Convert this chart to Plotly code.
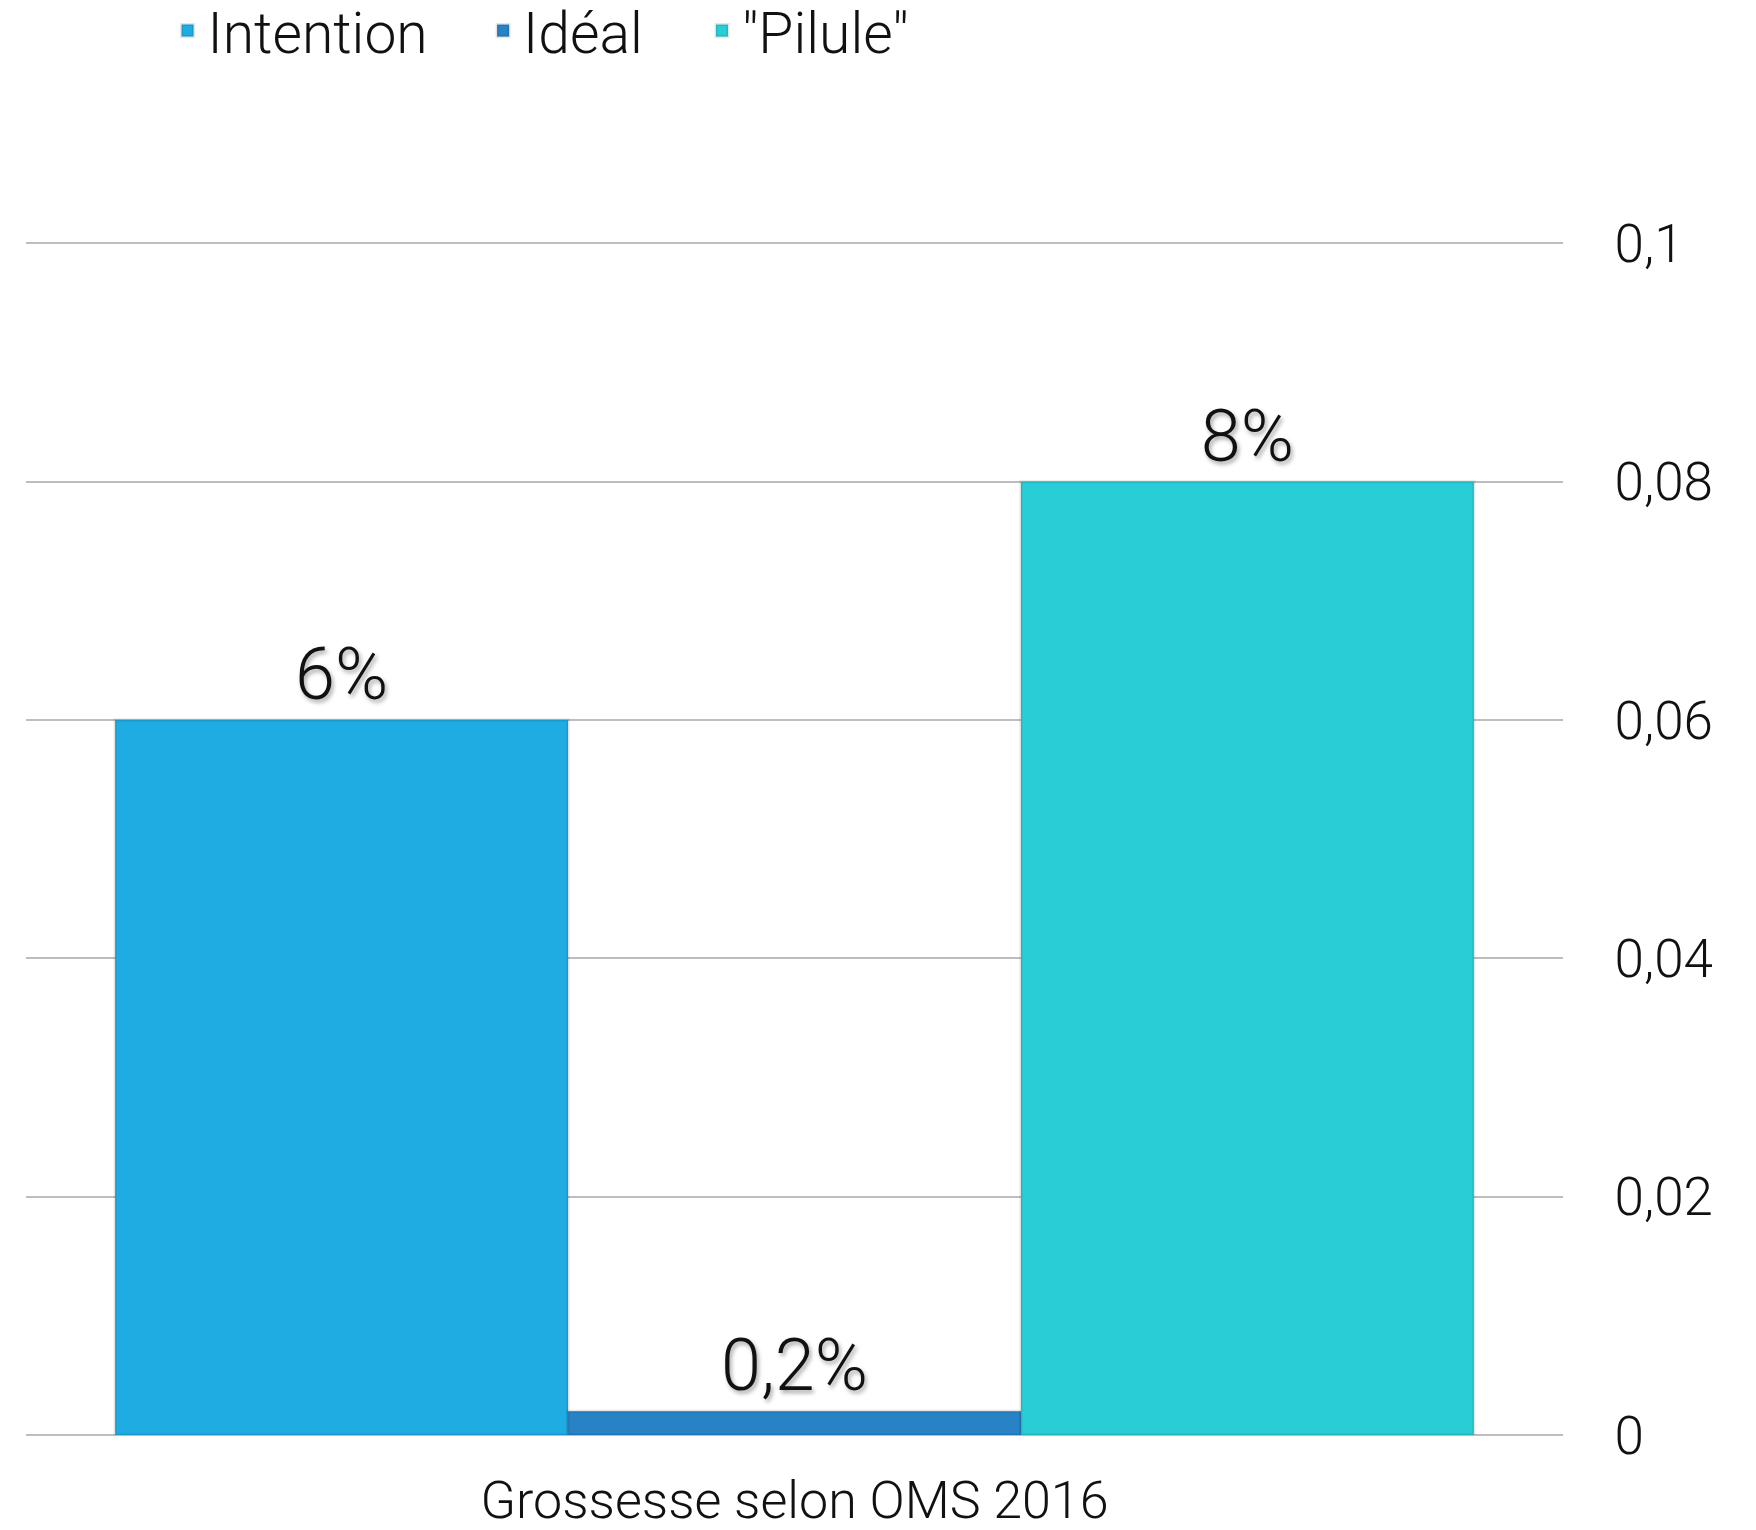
import plotly.graph_objects as go

category = ["Grossesse selon OMS 2016"]
series_names = ["Intention", "Idéal", "\"Pilule\""]
series_values = [[0.06], [0.002], [0.08]]
value_labels = [["6%"], ["0,2%"], ["8%"]]
colors = ["#1EACE2", "#2882C6", "#28CDD6"]
y_ticks = [0, 0.02, 0.04, 0.06, 0.08, 0.1]

FONT = "Roboto, Liberation Sans, sans-serif"
legend_ids = ["legend", "legend2", "legend3"]
legend_x = [0.0921, 0.2974, 0.4398]

fig = go.Figure()
for name, vals, labs, col, lid in zip(series_names, series_values, value_labels, colors, legend_ids):
    fig.add_trace(go.Bar(
        x=category, y=vals, name=name, text=labs, legend=lid,
        textposition="outside", cliponaxis=False,
        marker=dict(color=col, line=dict(color="rgba(0,0,0,0.10)", width=3)),
        textfont=dict(family=FONT, size=72, color="#111111", weight=300,
                      shadow="2px 3px 4px rgba(0,0,0,0.35)"),
    ))

legend_style = dict(orientation="h", xanchor="left", y=1.2127, yanchor="top",
                    font=dict(size=57, family=FONT, weight=300, color="#111111"),
                    itemwidth=30, bgcolor="rgba(0,0,0,0)")

fig.update_layout(
    width=1756, height=1530,
    margin=dict(l=26, r=193, t=241, b=95, autoexpand=False),
    plot_bgcolor="white", paper_bgcolor="white",
    barmode="group", bargap=0.116, bargroupgap=0,
    separators=", ",
    font=dict(family=FONT, color="#111111", weight=300),
    showlegend=True,
    legend=dict(x=legend_x[0], **legend_style),
    legend2=dict(x=legend_x[1], **legend_style),
    legend3=dict(x=legend_x[2], **legend_style),
)
fig.update_yaxes(range=[0, 0.1002], side="right", tickvals=y_ticks,
                 showgrid=True, gridcolor="#BDBDBD", gridwidth=2,
                 zeroline=True, zerolinecolor="#BDBDBD", zerolinewidth=2,
                 showline=False, ticks="outside", ticklen=40,
                 tickcolor="rgba(0,0,0,0)", automargin=False,
                 tickfont=dict(size=53, family=FONT, weight=300, color="#111111"))
fig.update_xaxes(showline=False, ticks="outside", ticklen=20,
                 tickcolor="rgba(0,0,0,0)", automargin=False,
                 tickfont=dict(size=52, family=FONT, weight=300, color="#111111"))

fig.write_html("out.html")
